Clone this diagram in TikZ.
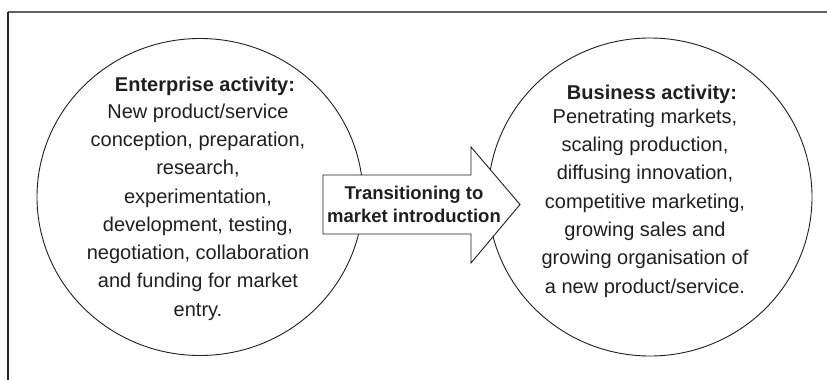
\documentclass[tikz,border=0pt]{standalone}
\usepackage{fontspec}
\setmainfont{Liberation Sans}
\begin{document}
\begin{tikzpicture}[x=1pt,y=-1pt,
  ink/.style={draw=black!88, line width=0.9pt},
  bubble/.style={ink},
  body/.style={align=center, text=black!88, inner sep=0pt,
    font=\fontsize{20}{28.3}\selectfont},
  head/.style={text=black!88, inner sep=0pt,
    font=\fontsize{20}{24}\selectfont\bfseries},
  arrowtext/.style={align=center, text=black!88, inner sep=0pt,
    font=\fontsize{18.5}{23}\selectfont\bfseries}]
\useasboundingbox (0,0) rectangle (827,380);
% open frame: top and left sides only
\draw[draw=black!62, line width=1.8pt] (827,12) -- (8,12);
\draw[draw=black!85, line width=1.2pt] (8,12) -- (8,380);

% the two activity circles
\draw[bubble] (200,197) ellipse [x radius=163, y radius=158.5];
\draw[bubble] (650,197) ellipse [x radius=162, y radius=159];

% block arrow between them
\draw[ink, fill=white] (323,175) -- (471,175) -- (471,147) -- (520,204.5)
  -- (471,263) -- (471,234) -- (323,234) -- cycle;
\node[arrowtext] (trans) at (414,204) {Transitioning to\\market introduction};

% left circle text
\node[head] (enth) at (205,86) {Enterprise activity:};
\node[body] (entb) at (198,212) {New product/service\\conception, preparation,\\research,\\experimentation,\\development, testing,\\negotiation, collaboration\\and funding for market\\entry.};

% right circle text
\node[head] (bush) at (652,94) {Business activity:};
\node[body] (busb) at (645,203) {Penetrating markets,\\scaling production,\\diffusing innovation,\\competitive marketing,\\growing sales and\\growing organisation of\\a new product/service.};
\end{tikzpicture}
\end{document}
